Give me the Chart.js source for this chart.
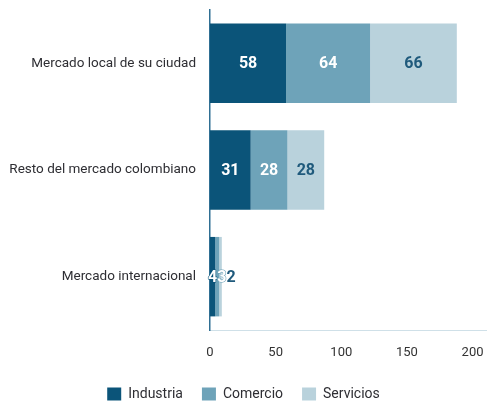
<!DOCTYPE html>
<html>
<head>
<meta charset="utf-8">
<script src="https://cdn.jsdelivr.net/npm/chart.js@4.4.1/dist/chart.umd.min.js"></script>
<style>
  html, body { margin: 0; padding: 0; background: #ffffff; overflow: hidden; }
  #wrap { width: 487px; height: 402px; overflow: hidden; position: relative; }
  #box { width: 487px; height: 411px; position: absolute; left: 0; top: 0; }
</style>
</head>
<body>
<div id="wrap"><div id="box"><canvas id="c"></canvas></div></div>
<script>
const categories = ["Mercado local de su ciudad", "Resto del mercado colombiano", "Mercado internacional"];
const seriesNames = ["Industria", "Comercio", "Servicios"];
const industria = [58, 31, 4];
const comercio = [64, 28, 3];
const servicios = [66, 28, 2];
const xTicks = [0, 50, 100, 150, 200];

const colors = ["#0b5479", "#6ea3b9", "#b9d2dc"];
const labelColors = ["#ffffff", "#ffffff", "#1f5a7c"];
const FONT = "Roboto, 'Liberation Sans', Arial, sans-serif";

const valueLabels = {
  id: 'valueLabels',
  afterDatasetsDraw(chart) {
    const ctx = chart.ctx;
    ctx.save();
    ctx.font = "bold 16px " + FONT;
    ctx.textBaseline = 'middle';
    ctx.textAlign = 'center';
    ctx.lineJoin = 'round';
    const n = chart.data.labels.length;
    for (let i = 0; i < n; i++) {
      let prevRight = -Infinity;
      chart.data.datasets.forEach((ds, di) => {
        const meta = chart.getDatasetMeta(di);
        const el = meta.data[i];
        if (!el) return;
        const txt = String(ds.data[i]);
        const w = ctx.measureText(txt).width;
        let cx = (el.x + el.base) / 2;
        cx = Math.max(cx, prevRight + w / 2);
        prevRight = cx + w / 2;
        if (labelColors[di] === '#ffffff') {
          ctx.strokeStyle = colors[di];
          ctx.lineWidth = 1.2;
          ctx.strokeText(txt, cx, el.y + 1);
        }
        ctx.fillStyle = labelColors[di];
        ctx.fillText(txt, cx, el.y + 1);
      });
    }
    ctx.restore();
  }
};

const seriesData = [industria, comercio, servicios];

new Chart(document.getElementById('c'), {
  type: 'bar',
  data: {
    labels: categories,
    datasets: seriesNames.map((name, i) => ({
      label: name,
      data: seriesData[i],
      backgroundColor: colors[i],
      borderWidth: 0,
      categoryPercentage: 1,
      barPercentage: 0.745
    }))
  },
  options: {
    indexAxis: 'y',
    responsive: true,
    maintainAspectRatio: false,
    animation: false,
    layout: { padding: { top: 10, right: 0, left: 0, bottom: 0 } },
    scales: {
      x: {
        stacked: true,
        min: 0,
        max: 211,
        grid: { display: false, drawTicks: false },
        border: { display: true, color: '#cfe0e8', width: 1 },
        afterBuildTicks(scale) { scale.ticks = xTicks.map(v => ({ value: v })); },
        afterFit(scale) { scale.paddingLeft = 0; scale.paddingRight = 0; scale.height = 38; },
        ticks: {
          padding: 15,
          color: '#333333',
          font: { family: FONT, size: 13, lineHeight: 16 / 13 }
        }
      },
      y: {
        stacked: true,
        grid: { display: false, drawTicks: false },
        border: { display: true, color: '#2f6f93', width: 1.5 },
        afterFit(scale) { scale.width = 210; scale.paddingTop = 0; scale.paddingBottom = 0; },
        ticks: {
          padding: 14,
          color: '#2e2e33',
          font: { family: FONT, size: 13.5 }
        }
      }
    },
    plugins: {
      legend: {
        position: 'bottom',
        labels: {
          boxWidth: 14,
          boxHeight: 13,
          padding: 19,
          color: '#2e2e33',
          font: { family: FONT, size: 14 }
        }
      },
      tooltip: { enabled: false }
    }
  },
  plugins: [valueLabels]
});
</script>
</body>
</html>
